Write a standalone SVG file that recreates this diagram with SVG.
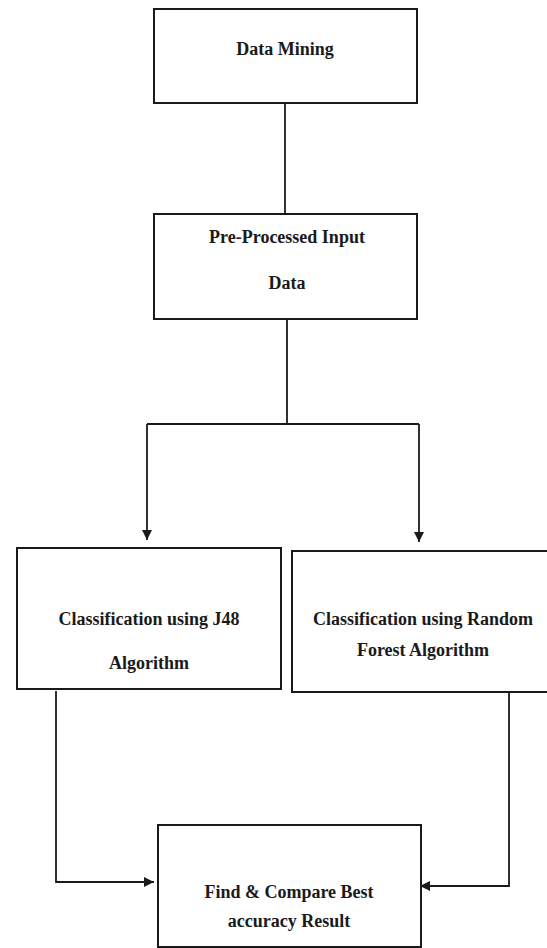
<svg xmlns="http://www.w3.org/2000/svg" width="547" height="948" viewBox="0 0 547 948">
<style>
.box{fill:#fff;stroke:#1a1a1a;stroke-width:2}
.t{font-family:'Liberation Serif','Times New Roman',Tinos,'DejaVu Serif',serif;font-weight:bold;font-size:18px;fill:#1a1a1a;text-anchor:middle}
.c{fill:none;stroke:#1a1a1a;stroke-width:1.8}
</style>
<defs>
<marker id="ah2" viewBox="0 0 10 10" refX="10" refY="5" markerWidth="12" markerHeight="10" markerUnits="userSpaceOnUse" orient="auto">
<path d="M0,0 L10,5 L0,10 Z" fill="#1a1a1a"/>
</marker>
</defs>
<rect width="547" height="948" fill="#fff"/>
<g id="connectors">
<line class="c" x1="285" y1="103" x2="285" y2="214"/>
<line class="c" x1="287" y1="319" x2="287" y2="424"/>
<polyline class="c" points="147,424 419,424"/>
<line class="c" x1="147" y1="424" x2="147" y2="540" marker-end="url(#ah2)"/>
<line class="c" x1="419" y1="424" x2="419" y2="542" marker-end="url(#ah2)"/>
<polyline class="c" points="56,691 56,882 154,882" marker-end="url(#ah2)"/>
<polyline class="c" points="509,692 509,886 420,886" marker-end="url(#ah2)"/>
</g>
<g id="data-mining">
<rect class="box" x="154" y="9" width="263" height="94"/>
<text class="t" x="285" y="55" font-family="Liberation Serif, serif">Data Mining</text>
</g>
<g id="preprocessed">
<rect class="box" x="154" y="214" width="263" height="105"/>
<text class="t" x="287" y="243">Pre-Processed Input</text>
<text class="t" x="287" y="289">Data</text>
</g>
<g id="j48">
<rect class="box" x="17" y="548" width="264" height="141"/>
<text class="t" x="149" y="625">Classification using J48</text>
<text class="t" x="149" y="669">Algorithm</text>
</g>
<g id="random-forest">
<rect class="box" x="292" y="551" width="260" height="141"/>
<text class="t" x="423" y="625">Classification using Random</text>
<text class="t" x="423" y="656">Forest Algorithm</text>
</g>
<g id="compare">
<rect class="box" x="158" y="825" width="263" height="122"/>
<text class="t" x="289" y="898">Find &amp; Compare Best</text>
<text class="t" x="289" y="927">accuracy Result</text>
</g>
</svg>
